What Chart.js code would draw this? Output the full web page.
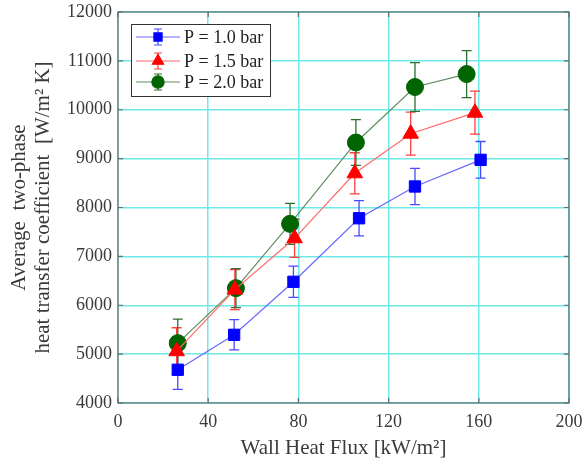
<!DOCTYPE html>
<html>
<head>
<meta charset="utf-8">
<script src="https://cdn.jsdelivr.net/npm/chart.js@4.4.1/dist/chart.umd.min.js"></script>
<style>
  html, body { margin: 0; padding: 0; background: #fff; }
  #wrap { width: 582px; height: 465px; position: relative; }
</style>
</head>
<body>
<div id="wrap"><canvas id="htc"></canvas></div>
<script>
// ---- data ----
const xTicks = [0, 40, 80, 120, 160, 200];
const yTicks = [4000, 5000, 6000, 7000, 8000, 9000, 10000, 11000, 12000];

const labels = ['P = 1.0 bar', 'P = 1.5 bar', 'P = 2.0 bar'];

// P = 1.0 bar
const flux10 = [26.5, 51.5, 77.8, 106.9, 131.7, 160.8];
const htc10  = [4680, 5395, 6480, 7780, 8430, 8975];
const err10  = [400, 310, 320, 360, 370, 375];

// P = 1.5 bar
const flux15 = [26, 51.8, 78.3, 105, 129.8, 158.3];
const htc15  = [5060, 6320, 7370, 8700, 9510, 9940];
const err15  = [480, 410, 390, 420, 440, 440];

// P = 2.0 bar
const flux20 = [26.5, 52.3, 76.3, 105.5, 131.7, 154.6];
const htc20  = [5225, 6350, 7665, 9330, 10465, 10730];
const err20  = [490, 400, 420, 470, 500, 480];

const colors = ['#0000ff', '#ff0000', '#006400'];
const lineColors = ['#6a6aff', '#ff6a6a', '#5f8f5f'];
const errColors = ['#4a4aff', '#ff4040', '#2f6f2f'];
const markers = ['rect', 'triangle', 'circle'];
const markerSize = [8, 9, 8.5];

const fluxes = [flux10, flux15, flux20];
const htcs = [htc10, htc15, htc20];
const errs = [err10, err15, err20];

const datasets = labels.map((lab, i) => ({
  label: lab,
  data: fluxes[i].map((x, j) => ({ x: x, y: htcs[i][j] })),
  errors: errs[i],
  borderColor: lineColors[i],
  borderWidth: 1.2,
  backgroundColor: colors[i],
  pointBackgroundColor: colors[i],
  pointBorderColor: colors[i],
  pointStyle: markers[i],
  pointRadius: markerSize[i],
  pointBorderWidth: 1,
  errColor: errColors[i],
  tension: 0,
  fill: false
}));

const serif = '"Liberation Serif", "DejaVu Serif", serif';

// ---- error bars (drawn below the markers) ----
const errorBars = {
  id: 'errorBars',
  beforeDatasetsDraw(chart) {
    const ctx = chart.ctx;
    const ys = chart.scales.y;
    chart.data.datasets.forEach((ds, i) => {
      const meta = chart.getDatasetMeta(i);
      ctx.save();
      ctx.strokeStyle = ds.errColor;
      ctx.lineWidth = 1.3;
      meta.data.forEach((pt, j) => {
        const v = ds.data[j].y, e = ds.errors[j];
        const top = ys.getPixelForValue(v + e);
        const bot = ys.getPixelForValue(v - e);
        const cw = 5;
        ctx.beginPath();
        ctx.moveTo(pt.x, top); ctx.lineTo(pt.x, bot);
        ctx.moveTo(pt.x - cw, top); ctx.lineTo(pt.x + cw, top);
        ctx.moveTo(pt.x - cw, bot); ctx.lineTo(pt.x + cw, bot);
        ctx.stroke();
      });
      ctx.restore();
    });
  }
};

// ---- frame with inward ticks + legend box ----
const frameAndLegend = {
  id: 'frameAndLegend',
  afterDraw(chart) {
    const ctx = chart.ctx;
    const a = chart.chartArea;
    const xs = chart.scales.x, ys = chart.scales.y;
    ctx.save();
    ctx.strokeStyle = '#5d6f6f';
    ctx.lineWidth = 1.2;
    ctx.strokeRect(a.left, a.top, a.right - a.left, a.bottom - a.top);
    ctx.beginPath();
    xTicks.forEach(t => {
      const px = xs.getPixelForValue(t);
      ctx.moveTo(px, a.top); ctx.lineTo(px, a.top + 5);
      ctx.moveTo(px, a.bottom); ctx.lineTo(px, a.bottom - 5);
    });
    yTicks.forEach(t => {
      const py = ys.getPixelForValue(t);
      ctx.moveTo(a.right, py); ctx.lineTo(a.right - 5, py);
      ctx.moveTo(a.left, py); ctx.lineTo(a.left + 5, py);
    });
    ctx.stroke();

    // legend
    const bx = 131, by = 24, bw = 139, bh = 72;
    ctx.fillStyle = '#fff';
    ctx.fillRect(bx, by, bw, bh);
    ctx.strokeStyle = '#333';
    ctx.lineWidth = 1;
    ctx.strokeRect(bx + 0.5, by + 0.5, bw, bh);
    const rows = [37, 61, 82];
    chart.data.datasets.forEach((ds, i) => {
      const y = rows[i];
      ctx.strokeStyle = ds.borderColor;
      ctx.lineWidth = 1.2;
      ctx.beginPath(); ctx.moveTo(136, y); ctx.lineTo(180, y); ctx.stroke();
      ctx.strokeStyle = ds.errColor;
      ctx.beginPath();
      ctx.moveTo(158, y - 8); ctx.lineTo(158, y + 8);
      ctx.moveTo(154, y - 8); ctx.lineTo(162, y - 8);
      ctx.moveTo(154, y + 8); ctx.lineTo(162, y + 8);
      ctx.stroke();
      ctx.fillStyle = ds.backgroundColor;
      ctx.strokeStyle = ds.backgroundColor;
      Chart.helpers.drawPoint(ctx, {
        pointStyle: ds.pointStyle, radius: ds.pointRadius * 0.72, borderWidth: 1
      }, 158, y);
      ctx.fillStyle = '#222';
      ctx.font = '18px ' + serif;
      ctx.textBaseline = 'middle';
      ctx.textAlign = 'left';
      ctx.fillText(ds.label, 184, y + 1);
    });
    ctx.restore();
  }
};

const ctx = document.getElementById('htc').getContext('2d');
new Chart(ctx, {
  type: 'line',
  data: { datasets: datasets },
  options: {
    responsive: true,
    maintainAspectRatio: false,
    animation: false,
    layout: { padding: { top: 12, right: 13, left: 0, bottom: 0 } },
    plugins: {
      legend: { display: false },
      tooltip: { enabled: false }
    },
    scales: {
      x: {
        type: 'linear',
        min: 0, max: 200,
        afterBuildTicks: s => { s.ticks = xTicks.map(v => ({ value: v })); },
        grid: { color: '#6fe8e8', lineWidth: 1.5, drawTicks: false },
        border: { display: false },
        ticks: { color: '#3a3a3a', font: { family: serif, size: 18 }, padding: 8,
                 callback: v => String(v) },
        title: {
          display: true, text: 'Wall Heat Flux [kW/m²]',
          color: '#3a3a3a', font: { family: serif, size: 21 }, padding: { top: 4 }
        },
        afterFit: s => { s.height = 62; s.paddingLeft = 0; s.paddingRight = 0; }
      },
      y: {
        min: 4000, max: 12000,
        afterBuildTicks: s => { s.ticks = yTicks.map(v => ({ value: v })); },
        grid: { color: '#6fe8e8', lineWidth: 1.5, drawTicks: false },
        border: { display: false },
        ticks: { color: '#3a3a3a', font: { family: serif, size: 18 }, padding: 6,
                 callback: v => String(v) },
        title: {
          display: true,
          text: ['Average  two-phase', 'heat transfer coefficient  [W/m² K]'],
          color: '#3a3a3a', font: { family: serif, size: 21, lineHeight: 1.15 }, padding: { top: 7, bottom: 2 }
        },
        afterFit: s => { s.width = 118; s.paddingTop = 0; s.paddingBottom = 0; }
      }
    }
  },
  plugins: [errorBars, frameAndLegend]
});
</script>
</body>
</html>
